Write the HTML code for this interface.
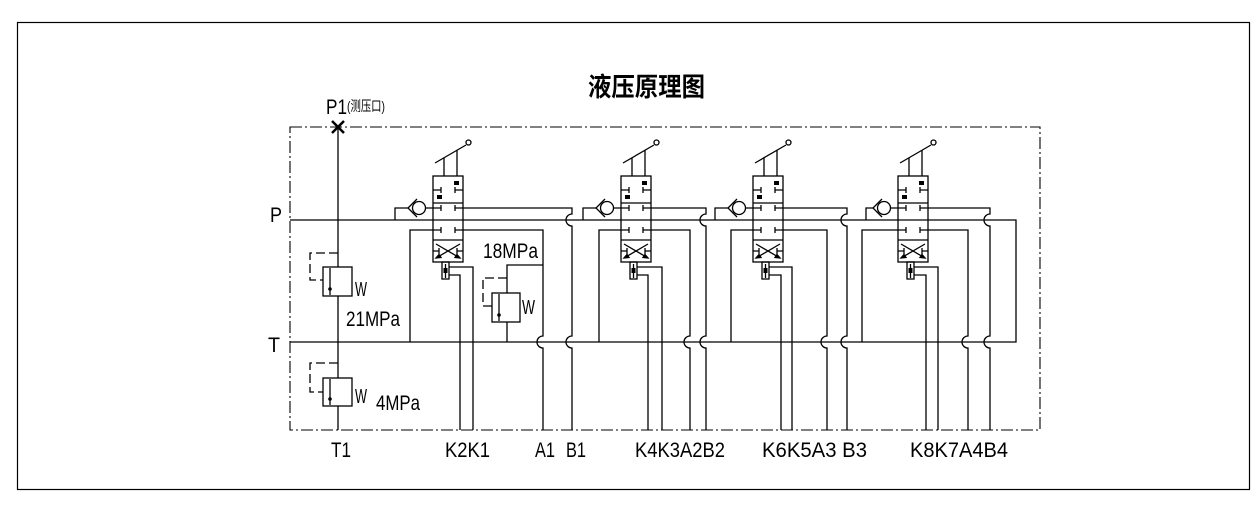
<!DOCTYPE html>
<html><head><meta charset="utf-8"><style>
html,body{margin:0;padding:0;background:#fff;}
svg{display:block;}
text{font-family:"Liberation Sans Narrow","Liberation Sans","Noto Sans CJK SC",sans-serif;fill:#000;}
</style></head><body>
<svg width="1260" height="507" viewBox="0 0 1260 507" xmlns="http://www.w3.org/2000/svg">
<defs>
<g id="valve" fill="none" stroke="#000" stroke-width="1.3">
  <line x1="2" y1="163" x2="33" y2="145"/>
  <circle cx="35.5" cy="142.5" r="2.5" fill="#fff"/>
  <line x1="11" y1="176" x2="11" y2="157.8"/>
  <line x1="24" y1="176" x2="24" y2="150.3"/>
  <rect x="0" y="176" width="30" height="86" fill="#fff"/>
  <line x1="0" y1="203" x2="30" y2="203"/>
  <line x1="0" y1="240" x2="30" y2="240"/>
  <line x1="0" y1="220" x2="30" y2="220"/>
  <rect x="21" y="181" width="5" height="4" fill="#000" stroke="none"/>
  <rect x="4" y="195" width="5" height="4" fill="#000" stroke="none"/>
  <path d="M0 190H8M8 187V193M30 190H22M22 187V193"/>
  <path d="M0 208H8M8 205V211M30 208H22M22 205V211"/>
  <path d="M0 230H8M8 227V233M30 230H22M22 227V233"/>
  <path d="M3 244L27 258M27 244L3 258"/>
  <path d="M0 251H6M6 248V254M30 251H24M24 248V254"/>
  <path d="M3 258L8 257.5L6 254.5Z M27 258L22 257.5L24 254.5Z" fill="#000"/>
  <circle cx="-14" cy="208" r="6.5"/>
  <path d="M-16 199L-25 208L-16 217M-7.5 208H0"/>
  <rect x="9" y="262" width="7" height="17"/>
  <line x1="12.5" y1="264" x2="12.5" y2="278"/>
  <rect x="10.5" y="268" width="4" height="5" fill="#000" stroke="none"/>
</g>
</defs>

<rect x="17.5" y="22.5" width="1232" height="467" fill="none" stroke="#000" stroke-width="1.2"/>
<rect x="290" y="127" width="750" height="303" fill="none" stroke="#000" stroke-width="1.1" stroke-dasharray="12 3 2 3"/>

<text x="588" y="96" font-size="26" font-weight="bold" textLength="117" lengthAdjust="spacingAndGlyphs" font-family="'Noto Sans CJK SC',sans-serif">液压原理图</text>

<g fill="none" stroke="#000" stroke-width="1.3">
  <path d="M290 220H1016V342H290"/>
  <path d="M338 127V267M338 296V378M338 406V430"/>
  <path d="M332 121L344 133M344 121L332 133" stroke-width="2.5"/>
  <rect x="323" y="267" width="29" height="29"/>
  <line x1="330" y1="268" x2="330" y2="295"/>
  <path d="M338 253H310V280H323" stroke-dasharray="9 4"/>
  <rect x="323" y="378" width="29" height="28"/>
  <line x1="330" y1="379" x2="330" y2="405"/>
  <path d="M338 363H310V392H323" stroke-dasharray="9 4"/>
  <rect x="492" y="293" width="28" height="29"/>
  <line x1="499" y1="294" x2="499" y2="321"/>
  <path d="M507 293V265H543M507 322V342"/>
  <path d="M507 278H483V306H492" stroke-dasharray="9 4"/>

  <path d="M408 208H395V220"/>
  <path d="M447 230V226A6 6 0 0 1 447 214V208H572V214A6 6 0 0 0 572 226V336A6 6 0 0 0 572 348V430"/>
  <path d="M463 230H543V336A6 6 0 0 0 543 348V430"/>
  <path d="M433 230H410V342"/>
  <path d="M449 267H473V430M449 275H460V430"/>

  <path d="M596 208H583V220"/>
  <path d="M651 208H706V214A6 6 0 0 0 706 226V336A6 6 0 0 0 706 348V430"/>
  <path d="M651 230H690V336A6 6 0 0 0 690 348V430"/>
  <path d="M621 230H599V342"/>
  <path d="M637 267H662V430M637 275H648V430"/>

  <path d="M728 208H715V220"/>
  <path d="M783 208H847V214A6 6 0 0 0 847 226V336A6 6 0 0 0 847 348V430"/>
  <path d="M783 230H827V336A6 6 0 0 0 827 348V430"/>
  <path d="M753 230H731V342"/>
  <path d="M769 267H792V430M769 275H781V430"/>

  <path d="M873 208H866V220"/>
  <path d="M910 230V226A6 6 0 0 1 910 214V208H990V214A6 6 0 0 0 990 226V336A6 6 0 0 0 990 348V430"/>
  <path d="M928 230H968V336A6 6 0 0 0 968 348V430"/>
  <path d="M898 230H862V342"/>
  <path d="M914 267H938V430M914 275H926V430"/>
</g>
<circle cx="330" cy="289" r="1.8"/>
<circle cx="330" cy="399" r="1.8"/>
<circle cx="499" cy="315" r="1.8"/>

<use href="#valve" x="433"/>
<use href="#valve" x="621"/>
<use href="#valve" x="753"/>
<use href="#valve" x="898"/>

<g font-size="21">
<text x="326" y="114" textLength="21" lengthAdjust="spacingAndGlyphs">P1</text>
<text x="347" y="111" font-size="14" textLength="38" lengthAdjust="spacingAndGlyphs" font-family="'Liberation Sans','Noto Sans CJK SC',sans-serif">(测压口)</text>
<text x="270" y="222" textLength="12" lengthAdjust="spacingAndGlyphs">P</text>
<text x="268" y="352" textLength="12" lengthAdjust="spacingAndGlyphs">T</text>
<text x="355" y="296" font-size="20" textLength="12" lengthAdjust="spacingAndGlyphs">W</text>
<text x="355" y="403" font-size="20" textLength="12" lengthAdjust="spacingAndGlyphs">W</text>
<text x="522" y="314" font-size="20" textLength="13" lengthAdjust="spacingAndGlyphs">W</text>
<text x="346" y="326" textLength="54" lengthAdjust="spacingAndGlyphs">21MPa</text>
<text x="376" y="410" textLength="44" lengthAdjust="spacingAndGlyphs">4MPa</text>
<text x="483" y="258" textLength="55" lengthAdjust="spacingAndGlyphs">18MPa</text>
<text x="331" y="457" textLength="20" lengthAdjust="spacingAndGlyphs">T1</text>
<text x="445" y="457" textLength="45" lengthAdjust="spacingAndGlyphs">K2K1</text>
<text x="535" y="457" textLength="20" lengthAdjust="spacingAndGlyphs">A1</text>
<text x="566" y="457" textLength="20" lengthAdjust="spacingAndGlyphs">B1</text>
<text x="635" y="457" textLength="90" lengthAdjust="spacingAndGlyphs">K4K3A2B2</text>
<text x="762" y="457" textLength="105" lengthAdjust="spacingAndGlyphs">K6K5A3 B3</text>
<text x="910" y="457" textLength="98" lengthAdjust="spacingAndGlyphs">K8K7A4B4</text>
</g>
</svg>
</body></html>
